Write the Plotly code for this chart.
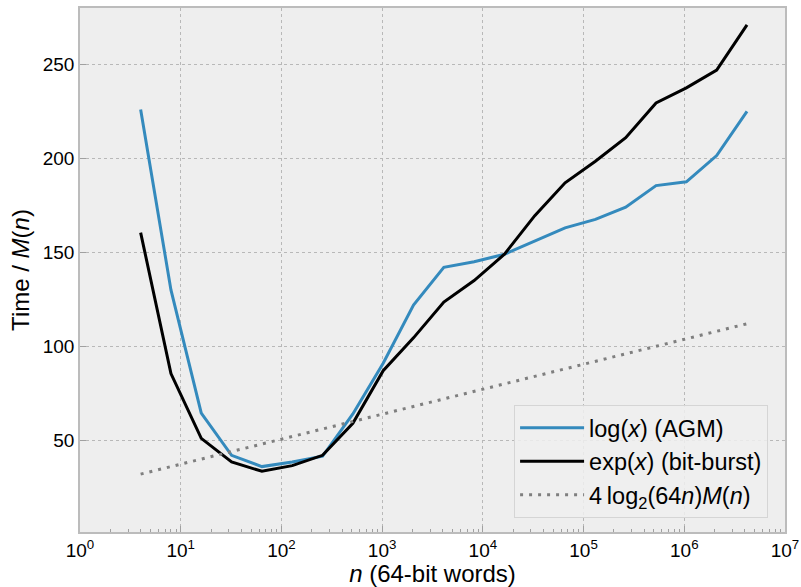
import plotly.graph_objects as go

# n (64-bit words)
n_words = [4, 8, 16, 32, 64, 128, 256, 512, 1024, 2048, 4096, 8192, 16384,
           32768, 65536, 131072, 262144, 524288, 1048576, 2097152, 4194304]

log_agm = [226, 130, 64.5, 42, 36, 38.5, 41.5, 64, 91, 122, 142, 145, 149,
           156, 163, 167.5, 174, 185.5, 187.5, 201.5, 225]

exp_bitburst = [160.5, 85.5, 51, 38.5, 33.5, 36.5, 42, 59, 87, 104.5, 123.5, 135, 149,
                169.5, 187, 198.5, 211, 229.5, 237.5, 247, 271]

bound = [32, 36, 40, 44, 48, 52, 56, 60, 64, 68, 72, 76, 80,
         84, 88, 92, 96, 100, 104, 108, 112]

x_tickvals = [1, 10, 100, 1000, 10000, 100000, 1000000, 10000000]
x_ticktext = ["10<sup>%d</sup>" % i for i in range(8)]
y_tickvals = [50, 100, 150, 200, 250]

FONT = "Liberation Sans, Arial, sans-serif"

fig = go.Figure()
fig.add_trace(go.Scatter(x=n_words, y=log_agm, mode="lines",
                         name="log(<i>x</i>) (AGM)",
                         line=dict(color="#348ABD", width=3)))
fig.add_trace(go.Scatter(x=n_words, y=exp_bitburst, mode="lines",
                         name="exp(<i>x</i>) (bit-burst)",
                         line=dict(color="black", width=3)))
fig.add_trace(go.Scatter(x=n_words, y=bound, mode="lines",
                         name="4\u2009log<sub>2</sub>(64<i>n</i>)<i>M</i>(<i>n</i>)",
                         line=dict(color="#7F7F7F", width=3, dash="3px,6px")))

fig.update_layout(
    width=801, height=587,
    margin=dict(l=80, r=16, t=8, b=55, autoexpand=False),
    paper_bgcolor="white",
    plot_bgcolor="#EEEEEE",
    font=dict(family=FONT, size=19, color="black"),
    legend=dict(
        x=0.976, y=0.027, xanchor="right", yanchor="bottom",
        bgcolor="rgba(238,238,238,0.85)", bordercolor="#D5D5D5", borderwidth=1,
        font=dict(size=23.5), tracegroupgap=0, itemwidth=64,
    ),
    showlegend=True,
)

fig.update_xaxes(
    type="log", range=[0, 7], automargin=False, ticklabeloverflow="allow",
    tickvals=x_tickvals, ticktext=x_ticktext,
    ticks="inside", ticklen=6, tickcolor="#A0A0A0", tickwidth=1,
    showline=True, mirror=True, linecolor="#BCBCBC", linewidth=1.5,
    showgrid=True, gridcolor="#B8B8B8", gridwidth=0.8, griddash="3px,3px",
    zeroline=False,
    minor=dict(ticks="inside", ticklen=3, tickcolor="#A0A0A0", dtick="D1", showgrid=False),
    tickfont=dict(size=19),
    title=dict(text="<i>n</i> (64-bit words)", font=dict(size=24), standoff=6),
)
fig.update_yaxes(
    range=[1.2, 280], automargin=False, ticklabeloverflow="allow",
    tickvals=y_tickvals,
    ticks="inside", ticklen=6, tickcolor="#A0A0A0", tickwidth=1,
    showline=True, mirror=True, linecolor="#BCBCBC", linewidth=1.5,
    showgrid=True, gridcolor="#B8B8B8", gridwidth=0.8, griddash="3px,3px",
    zeroline=False,
    tickfont=dict(size=19),
    title=dict(text="Time / <i>M</i>(<i>n</i>)", font=dict(size=24), standoff=6),
)

# remove the default 8px page margin so the figure fills the window exactly
fig.write_html("out.html", config={"displayModeBar": False},
               post_script="document.body.style.margin='0px';")
